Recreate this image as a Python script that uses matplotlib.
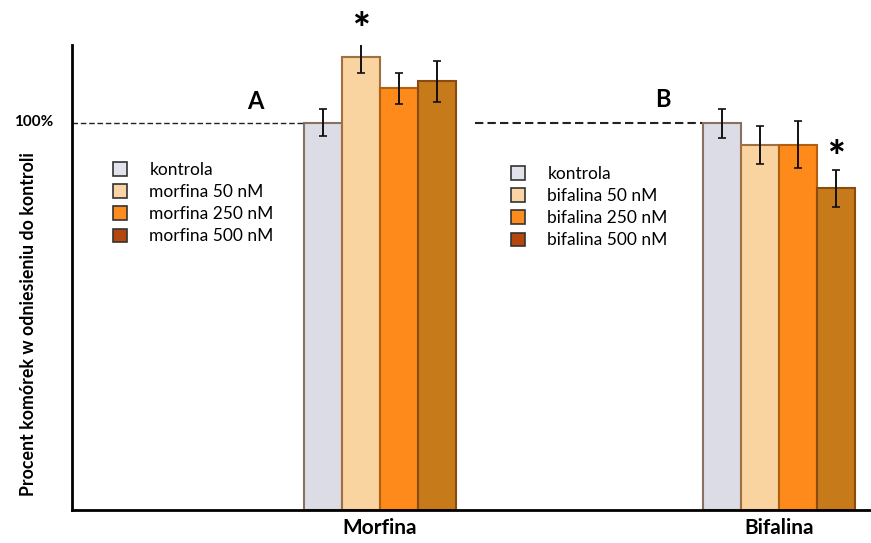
import matplotlib.pyplot as plt
import matplotlib
from matplotlib.patches import Patch
import numpy as np

matplotlib.rcParams['font.family'] = ['Lato', 'DejaVu Sans']

groups = ['Morfina', 'Bifalina']
series_a = ['kontrola', 'morfina 50 nM', 'morfina 250 nM', 'morfina 500 nM']
series_b = ['kontrola', 'bifalina 50 nM', 'bifalina 250 nM', 'bifalina 500 nM']
morfina_vals = [100, 116.8, 108.8, 110.6]
morfina_err = [3.6, 3.9, 4.0, 5.3]
bifalina_vals = [99.8, 94.3, 94.3, 83.0]
bifalina_err = [3.7, 4.9, 6.0, 4.7]
signif_a = [False, True, False, False]
signif_b = [False, False, False, True]

bar_colors = ['#dcdce6', '#f9d3a0', '#fd8a1a', '#c77a1a']
edge_colors = ['#8a7060', '#a07040', '#b06010', '#8a4a10']
legend_colors = ['#e2e2ea', '#fbd4a6', '#fd8c1c', '#b4470e']

fig = plt.figure(figsize=(8.71, 5.43), dpi=100)
W, H = 871, 543
ax = fig.add_axes([72 / W, 33 / H, 798 / W, 465 / H])

w = 38 / 399
offsets = (np.arange(4) - 1.5) * w
for gi, (vals, errs, sig) in enumerate([(morfina_vals, morfina_err, signif_a),
                                        (bifalina_vals, bifalina_err, signif_b)]):
    for i in range(4):
        x = gi + offsets[i]
        ax.bar(x, vals[i], width=w, color=bar_colors[i], edgecolor=edge_colors[i],
               linewidth=1.5, zorder=2)
        ax.errorbar(x, vals[i], yerr=errs[i], fmt='none', ecolor='#111111',
                    elinewidth=1.4, capsize=3, capthick=1.2, zorder=3)
        if sig[i]:
            ax.text(x, vals[i] + errs[i] - 2, '*', ha='center', va='bottom',
                    fontsize=30, fontweight='black')

ax.set_xlim(-0.772, 1.228)
ax.set_ylim(0, 120)

# linie 100%
ax.plot([-0.772, offsets[0] - w / 2], [100, 100], color='#222222', lw=1,
        ls=(0, (4, 2)), zorder=1)
ax.plot([1 + (475 - 779) / 399, 1 + offsets[0] - w / 2], [100, 100],
        color='#222222', lw=1.5, ls=(0, (4, 2)), zorder=1)

ax.text(-0.024, 100, '100%', transform=ax.get_yaxis_transform(), ha='right',
        va='center', fontsize=11, fontweight='bold')
ax.text((255 - 380) / 399, 105.5, 'A', ha='center', va='center', fontsize=17,
        fontweight='bold')
ax.text(1 + (663 - 779) / 399, 106, 'B', ha='center', va='center', fontsize=17,
        fontweight='bold')

ax.set_ylabel('Procent komórek w odniesieniu do kontroli', fontsize=12.8,
              fontweight='bold')
ax.yaxis.set_label_coords(-0.044, 0.40)

ax.set_xticks([0, 1])
ax.set_xticklabels(groups, fontsize=15, fontweight='bold')
ax.tick_params(axis='x', length=0, pad=6)
ax.set_yticks([])

for s in ['top', 'right']:
    ax.spines[s].set_visible(False)
ax.spines['left'].set_linewidth(2)
ax.spines['bottom'].set_linewidth(2)

leg_kw = dict(frameon=False, fontsize=12.5, handlelength=0.8, handleheight=0.8,
              labelspacing=0.35, handletextpad=1.3, borderpad=0, borderaxespad=0,
              loc='upper left')
handles_a = [Patch(facecolor=legend_colors[i], edgecolor='#333333', lw=1.2,
                   label=series_a[i]) for i in range(4)]
handles_b = [Patch(facecolor=legend_colors[i], edgecolor='#333333', lw=1.2,
                   label=series_b[i]) for i in range(4)]
leg_a = ax.legend(handles=handles_a,
                  bbox_to_anchor=((113 - 72) / 798, (510 - 162) / 465), **leg_kw)
ax.add_artist(leg_a)
ax.legend(handles=handles_b,
          bbox_to_anchor=((511 - 72) / 798, (510 - 166) / 465), **leg_kw)

plt.savefig('out.png', dpi=100)
